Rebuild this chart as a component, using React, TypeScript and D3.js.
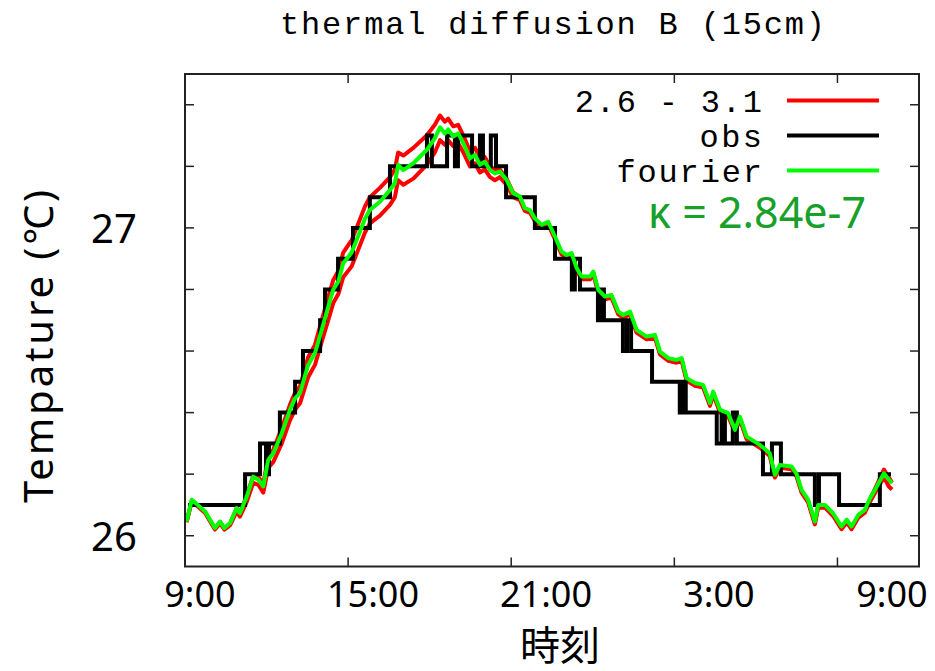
import React from 'react';
import * as d3 from 'd3';

const W = 935;
const H = 671;
const frame = { left: 185, right: 919, top: 74, bottom: 566.5 };

// hours after 9:00, shared by the three model curves
const fitT = [
  0.06, 0.25, 0.74, 1.1, 1.29, 1.45, 1.66, 1.9, 2.02, 2.27, 2.51, 2.7, 2.88, 3.06, 3.25, 3.56, 3.86, 4.05, 4.23,
  4.53, 4.78, 5.03, 5.27, 5.45, 5.64, 5.82, 6.13, 6.31, 6.62, 6.8, 7.17, 7.54, 7.72, 7.84, 8.03, 8.4, 8.89, 9.19,
  9.38, 9.56, 9.68, 9.87, 10.05, 10.24, 10.48, 10.67, 10.85, 11.03, 11.22, 11.4, 11.58, 11.83, 12.07, 12.32,
  12.5, 12.69, 12.87, 13.12, 13.36, 13.61, 13.85, 14.04, 14.22, 14.41, 14.59, 14.9, 15.02, 15.2, 15.45, 15.69,
  15.94, 16.12, 16.37, 16.61, 16.98, 17.29, 17.47, 17.78, 18.08, 18.27, 18.45, 18.76, 19.06, 19.31, 19.43,
  19.68, 19.98, 20.23, 20.41, 20.66, 21.15, 21.51, 21.7, 21.88, 22.31, 22.5, 22.68, 22.92, 23.17, 23.29, 23.54,
  23.84, 24.15, 24.34, 24.52, 24.77, 25.01, 25.2, 25.45, 25.71, 25.89, 26.01,
];

// fourier, kappa = 2.84e-7
const fourierV = [
  26.046, 26.117, 26.079, 26.025, 26.046, 26.025, 26.041, 26.09, 26.073, 26.127, 26.192, 26.182, 26.16, 26.246,
  26.268, 26.333, 26.409, 26.447, 26.463, 26.555, 26.593, 26.669, 26.744, 26.799, 26.826, 26.885, 26.92, 26.96,
  27.03, 27.058, 27.085, 27.123, 27.145, 27.205, 27.188, 27.21, 27.253, 27.291, 27.327, 27.307, 27.32, 27.297,
  27.307, 27.275, 27.226, 27.237, 27.205, 27.215, 27.188, 27.177, 27.183, 27.156, 27.113, 27.102,
  27.064, 27.058, 27.031, 27.01, 27.02, 26.972, 26.923, 26.912, 26.918, 26.869, 26.842, 26.842, 26.858, 26.799,
  26.777, 26.782, 26.728, 26.717, 26.728, 26.669, 26.647, 26.652, 26.598, 26.577, 26.571, 26.577, 26.512,
  26.496, 26.49, 26.431, 26.468, 26.409, 26.398, 26.344, 26.387, 26.322, 26.295, 26.268, 26.198, 26.23,
  26.225, 26.2, 26.149, 26.117, 26.046, 26.1, 26.1, 26.073, 26.03, 26.052, 26.03, 26.068, 26.084, 26.122,
  26.16, 26.203, 26.182, 26.171,
];

// range 2.6 - 3.1: upper and lower curve
const rangeHighV = [
  26.046, 26.115, 26.077, 26.024, 26.045, 26.024, 26.04, 26.09, 26.075, 26.13, 26.195, 26.19, 26.17, 26.255,
  26.28, 26.35, 26.425, 26.465, 26.485, 26.58, 26.62, 26.7, 26.775, 26.83, 26.86, 26.92, 26.96, 27.0,
  27.07, 27.1, 27.13, 27.165, 27.19, 27.245, 27.235, 27.26, 27.3, 27.335, 27.365, 27.345, 27.355, 27.33,
  27.335, 27.3, 27.25, 27.26, 27.225, 27.23, 27.2, 27.19, 27.19, 27.16, 27.115, 27.1,
  27.06, 27.054, 27.027, 27.006, 27.016, 26.968, 26.919, 26.908, 26.914, 26.865, 26.838, 26.838, 26.854, 26.795,
  26.773, 26.778, 26.724, 26.713, 26.724, 26.665, 26.643, 26.648, 26.594, 26.573, 26.567, 26.573, 26.508,
  26.492, 26.486, 26.427, 26.464, 26.405, 26.394, 26.34, 26.383, 26.318, 26.291, 26.264, 26.194, 26.226,
  26.221, 26.196, 26.145, 26.113, 26.042, 26.096, 26.096, 26.069, 26.026, 26.048, 26.026, 26.064, 26.08, 26.12,
  26.165, 26.215, 26.19, 26.172,
];

const rangeLowV = [
  26.044, 26.112, 26.074, 26.02, 26.04, 26.02, 26.034, 26.078, 26.062, 26.11, 26.172, 26.165, 26.14, 26.22,
  26.24, 26.3, 26.375, 26.41, 26.43, 26.515, 26.555, 26.63, 26.7, 26.755, 26.785, 26.84, 26.875, 26.915,
  26.985, 27.015, 27.04, 27.075, 27.1, 27.155, 27.14, 27.16, 27.205, 27.245, 27.285, 27.27, 27.285, 27.265,
  27.275, 27.245, 27.2, 27.21, 27.18, 27.19, 27.165, 27.155, 27.165, 27.14, 27.1, 27.09,
  27.055, 27.049, 27.022, 27.001, 27.011, 26.963, 26.914, 26.903, 26.909, 26.86, 26.833, 26.833, 26.849, 26.79,
  26.768, 26.773, 26.719, 26.708, 26.719, 26.66, 26.638, 26.643, 26.589, 26.568, 26.562, 26.568, 26.503,
  26.487, 26.481, 26.422, 26.459, 26.4, 26.389, 26.335, 26.378, 26.313, 26.286, 26.259, 26.189, 26.221,
  26.216, 26.191, 26.14, 26.108, 26.037, 26.091, 26.091, 26.064, 26.021, 26.043, 26.021, 26.059, 26.075, 26.11,
  26.15, 26.19, 26.16, 26.15,
];

// observed: hour at which each level starts
const obsT = [
  0.11, 2.21, 2.76, 2.98, 3.09, 3.49, 4.05, 4.34, 4.97, 5.15, 5.63, 6.18, 6.8, 7.54, 8.9, 9.08, 9.64, 9.93,
  10.04, 10.56, 10.85, 10.96, 11.25, 11.44, 11.81, 12.87, 13.61, 14.23, 14.34, 14.53, 15.19, 15.3, 15.41,
  16.11, 16.26, 16.41, 17.18, 18.2, 18.31, 18.42, 19.56, 19.74, 19.86, 20.15, 20.3, 21.26, 21.59, 21.92,
  23.17, 23.32, 24.06, 25.56, 25.97,
];
const obsV = [
  26.1, 26.2, 26.3, 26.2, 26.3, 26.4, 26.5, 26.6, 26.7, 26.8, 26.9, 27.0, 27.1, 27.2, 27.3, 27.2, 27.3, 27.2,
  27.3, 27.2, 27.3, 27.2, 27.3, 27.2, 27.1, 27.0, 26.9, 26.8, 26.9, 26.8, 26.7, 26.8, 26.7,
  26.6, 26.7, 26.6, 26.5, 26.4, 26.5, 26.4, 26.3, 26.4, 26.3, 26.4, 26.3, 26.2, 26.3, 26.2,
  26.1, 26.2, 26.1, 26.2, 26.2,
];

const xTickHours = [6, 12, 18, 24];
const xLabelHours = [0, 6, 12, 18, 24];
const xLabels = ['9:00', '15:00', '21:00', '3:00', '9:00'];
const yTickValues = [26, 26.2, 26.4, 26.6, 26.8, 27, 27.2, 27.4];
const yLabelValues = [26, 27];

const legendLabels = ['2.6 - 3.1', 'obs', 'fourier'];
const legendColors = ['#ff0000', '#000000', '#00ff00'];

const MONO = '"Liberation Mono", "DejaVu Sans Mono", monospace';
const SANS = '"Noto Sans", "Noto Sans CJK JP", sans-serif';
const CJK = '"Noto Sans CJK JP", "Noto Sans", sans-serif';

export default function App() {
  const x = d3.scaleLinear().domain([0, 27]).range([frame.left, frame.right]);
  const y = d3.scaleLinear().domain([25.9, 27.5]).range([frame.bottom, frame.top]);
  // the hour labels were laid over the plot a little wider than the tics
  const xLabelPos = d3.scaleLinear().domain([0, 24]).range([200, 892]);

  const line = d3
    .line<[number, number]>()
    .x((d) => x(d[0]))
    .y((d) => y(d[1]));
  const stepLine = d3
    .line<[number, number]>()
    .x((d) => x(d[0]))
    .y((d) => y(d[1]))
    .curve(d3.curveStepAfter);

  const pairs = (vals: number[]) => fitT.map((t, i) => [t, vals[i]] as [number, number]);
  const obsPairs = obsT.map((t, i) => [t, obsV[i]] as [number, number]);

  const tickLen = 9;
  const tickStroke = '#222';

  return (
    <svg width={W} height={H} style={{ position: 'absolute', left: 0, top: 0, background: '#fff' }}>
      <rect x={0} y={0} width={W} height={H} fill="#fff" />

      <text x={280} y={34} fontFamily={MONO} fontSize={32} textLength={545} lengthAdjust="spacing" fill="#000">
        thermal diffusion B (15cm)
      </text>

      {/* ticks, mirrored on all four sides */}
      {xTickHours.map((h) => (
        <g key={'xt' + h} stroke={tickStroke} strokeWidth={1.5}>
          <line x1={x(h)} x2={x(h)} y1={frame.bottom} y2={frame.bottom - tickLen} />
          <line x1={x(h)} x2={x(h)} y1={frame.top} y2={frame.top + tickLen} />
        </g>
      ))}
      {yTickValues.map((v) => (
        <g key={'yt' + v} stroke={tickStroke} strokeWidth={1.5}>
          <line x1={frame.left} x2={frame.left + tickLen} y1={y(v)} y2={y(v)} />
          <line x1={frame.right} x2={frame.right - tickLen} y1={y(v)} y2={y(v)} />
        </g>
      ))}

      <path d={line(pairs(rangeHighV)) || ''} fill="none" stroke="#ff0000" strokeWidth={4} strokeLinejoin="round" />
      <path d={line(pairs(rangeLowV)) || ''} fill="none" stroke="#ff0000" strokeWidth={4} strokeLinejoin="round" />
      <path d={stepLine(obsPairs) || ''} fill="none" stroke="#000" strokeWidth={4} strokeLinejoin="miter" />
      <path d={line(pairs(fourierV)) || ''} fill="none" stroke="#00ff00" strokeWidth={4} strokeLinejoin="round" />

      <rect
        x={frame.left}
        y={frame.top}
        width={frame.right - frame.left}
        height={frame.bottom - frame.top}
        fill="none"
        stroke="#222"
        strokeWidth={2}
      />

      {/* legend */}
      {legendLabels.map((lab, i) => (
        <g key={lab}>
          <text
            x={762}
            y={112 + i * 35}
            textAnchor="end"
            fontFamily={MONO}
            fontSize={32}
            textLength={lab.length * 20.8}
            lengthAdjust="spacing"
            fill="#000"
          >
            {lab}
          </text>
          <line x1={787} x2={879} y1={100.5 + i * 35} y2={100.5 + i * 35} stroke={legendColors[i]} strokeWidth={4} />
        </g>
      ))}
      <text x={866} y={228} textAnchor="end" fontFamily={SANS} fontSize={43} fill="#17a02a">
        κ = 2.84e-7
      </text>

      {/* axis labels */}
      {xLabels.map((lab, i) => (
        <text
          key={'xl' + i}
          x={xLabelPos(xLabelHours[i])}
          y={607}
          textAnchor="middle"
          fontFamily={SANS}
          fontSize={36}
          fill="#000"
        >
          {lab}
        </text>
      ))}
      {yLabelValues.map((v) => (
        <text key={'yl' + v} x={114} y={y(v) + 15} textAnchor="middle" fontFamily={SANS} fontSize={40} fill="#000">
          {v}
        </text>
      ))}
      <text
        transform={`translate(53,${346.5}) rotate(-90)`}
        textAnchor="middle"
        fontFamily={SANS}
        fontSize={40}
        textLength={313}
        lengthAdjust="spacing"
        fill="#000"
      >
        Tempature (℃)
      </text>
      <text x={560} y={660} textAnchor="middle" fontFamily={CJK} fontSize={40} fill="#000">
        時刻
      </text>
    </svg>
  );
}
